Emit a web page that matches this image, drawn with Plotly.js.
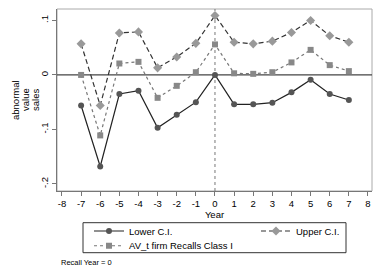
<!DOCTYPE html>
<html>
<head>
<meta charset="utf-8">
<script src="https://cdn.plot.ly/plotly-3.0.1.min.js"></script>
<style>html,body{margin:0;padding:0;background:#fff;}#chart{width:382px;height:278px;}</style>
</head>
<body>
<div id="chart"></div>
<script>
var years = [-7, -6, -5, -4, -3, -2, -1, 0, 1, 2, 3, 4, 5, 6, 7];
var lowerCI = [-0.056, -0.168, -0.035, -0.029, -0.097, -0.073, -0.050, 0.0, -0.054, -0.054, -0.051, -0.032, -0.009, -0.035, -0.046];
var upperCI = [0.057, -0.056, 0.077, 0.079, 0.013, 0.033, 0.058, 0.109, 0.060, 0.057, 0.062, 0.078, 0.100, 0.072, 0.060];
var avRecalls = [0.0, -0.111, 0.021, 0.024, -0.042, -0.020, 0.005, 0.056, 0.003, 0.002, 0.005, 0.023, 0.046, 0.018, 0.007];
var xTicks = [-8, -7, -6, -5, -4, -3, -2, -1, 0, 1, 2, 3, 4, 5, 6, 7, 8];
var xTickText = ['-8', '-7', '-6', '-5', '-4', '-3', '-2', '-1', '0', '1', '2', '3', '4', '5', '6', '7', '8'];
var yTicks = [-0.2, -0.1, 0, 0.1];
var yTickText = ['-.2', '-.1', '0', '.1'];
var seriesNames = ['Lower C.I.', 'Upper C.I.', 'AV_t firm Recalls Class I'];
var yTitleLines = ['abnormal', 'value', 'sales'];
var noteText = 'Recall Year = 0';

var font = 'Liberation Sans, Arial, sans-serif';

var traces = [
  {x: years, y: lowerCI, name: seriesNames[0], mode: 'lines+markers', legend: 'legend',
   line: {color: '#222', width: 1.2}, marker: {symbol: 'circle', size: 6, color: '#555'}},
  {x: years, y: upperCI, name: seriesNames[1], mode: 'lines+markers', legend: 'legend2',
   line: {color: '#333', width: 1.2, dash: '5px,3px'}, marker: {symbol: 'diamond', size: 7, color: '#999'}},
  {x: years, y: avRecalls, name: seriesNames[2], mode: 'lines+markers', legend: 'legend3',
   line: {color: '#777', width: 1.2, dash: 'dot'}, marker: {symbol: 'square', size: 6, color: '#888'}}
];

var legendBase = {
  orientation: 'v', xanchor: 'left', yanchor: 'middle', bgcolor: 'rgba(0,0,0,0)',
  borderwidth: 0, font: {family: font, size: 9.5, color: '#000'}
};

var titleAnns = yTitleLines.map(function (t, i) {
  return {text: t, xref: 'paper', yref: 'paper', x: (15 + 10 * i - 57) / 315, y: (191 - 100) / 182,
    xanchor: 'center', yanchor: 'middle', textangle: -90, showarrow: false,
    font: {family: font, size: 9.5, color: '#000'}};
});

var layout = {
  width: 382, height: 278,
  margin: {l: 57, r: 10, t: 9, b: 87},
  paper_bgcolor: '#fff', plot_bgcolor: '#fff',
  font: {family: font, size: 9, color: '#000'},
  showlegend: true,
  xaxis: {
    range: [-8.26, 8.21], tickvals: xTicks, ticktext: xTickText, ticks: 'outside', ticklen: 4, tickcolor: '#777',
    showgrid: false, zeroline: false, showline: true, linecolor: '#777', linewidth: 1,
    tickfont: {family: font, size: 9.5, color: '#000'},
    title: {text: 'Year', font: {family: font, size: 9.5, color: '#000'}, standoff: 0}
  },
  yaxis: {
    range: [-0.213, 0.121], tickvals: yTicks, ticktext: yTickText, tickangle: -90,
    ticks: 'outside', ticklen: 4, tickcolor: '#777',
    showgrid: false, zeroline: false, showline: true, linecolor: '#777', linewidth: 1,
    tickfont: {family: font, size: 9.5, color: '#000'}
  },
  legend: Object.assign({}, legendBase, {x: 0.1016, y: -0.2198}),
  legend2: Object.assign({}, legendBase, {x: 0.6317, y: -0.2198}),
  legend3: Object.assign({}, legendBase, {x: 0.1016, y: -0.3008}),
  shapes: [
    {type: 'rect', xref: 'paper', yref: 'paper', x0: 0, x1: 1, y0: 0, y1: 1, line: {color: '#aaa', width: 1}, layer: 'below'},
    {type: 'line', xref: 'paper', yref: 'y', x0: 0, x1: 1, y0: 0, y1: 0, line: {color: '#444', width: 1.3}, layer: 'below'},
    {type: 'line', xref: 'x', yref: 'paper', x0: 0, x1: 0, y0: 0, y1: 1, line: {color: '#777', width: 1, dash: 'dot'}, layer: 'below'},
    {type: 'rect', xref: 'paper', yref: 'paper', x0: (83 - 57) / 315, x1: (346 - 57) / 315,
     y0: (191 - 252.7) / 182, y1: (191 - 222.7) / 182, line: {color: '#333', width: 1}}
  ],
  annotations: titleAnns.concat([
    {text: noteText, xref: 'paper', yref: 'paper', x: 0.006, y: -0.394, xanchor: 'left', yanchor: 'middle',
     showarrow: false, font: {family: font, size: 7.5, color: '#000'}}
  ])
};

Plotly.newPlot('chart', traces, layout, {displayModeBar: false, staticPlot: true});
</script>
</body>
</html>
